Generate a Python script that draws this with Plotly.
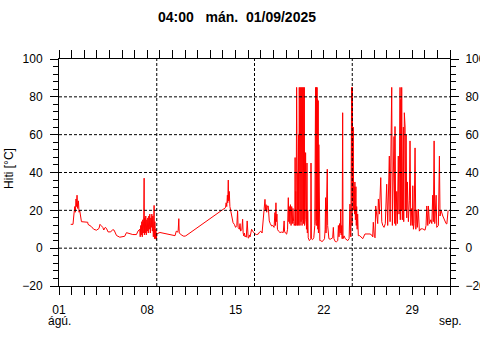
import pandas as pd
import plotly.graph_objects as go

START = pd.Timestamp("2025-08-01 00:00")
END = pd.Timestamp("2025-09-01 00:00")

# (days since 01 Aug, temperature °C)
seg_aug01_08 = [
    (0.93, 12.6), (1.11, 12.6), (1.17, 17), (1.25, 22), (1.30, 19), (1.35, 26), (1.38, 22),
    (1.43, 28), (1.48, 21), (1.54, 25), (1.59, 19), (1.64, 20), (1.78, 14), (1.96, 14),
    (2.28, 13.7), (2.30, 12.6), (2.44, 12), (2.57, 11.4), (2.75, 10), (2.97, 9.5), (3.17, 10.4),
    (3.25, 12.6), (3.33, 12), (3.47, 11), (3.55, 9.6), (3.67, 11), (3.76, 10.5), (3.89, 8.6),
    (4.10, 8.6), (4.26, 9.8), (4.37, 9.5), (4.56, 6.7), (4.82, 5.8), (5.06, 6.0), (5.21, 6.3),
    (5.35, 8.2), (5.61, 7.6), (5.85, 7.2), (6.14, 7.2), (6.27, 9.1),
    (6.40, 10), (6.44, 6), (6.48, 12), (6.52, 7), (6.56, 14), (6.60, 6), (6.64, 15), (6.68, 8),
    (6.72, 17), (6.75, 37), (6.77, 7), (6.80, 16), (6.84, 8), (6.88, 17), (6.92, 7), (6.96, 15),
    (7.00, 9), (7.04, 16), (7.08, 8), (7.12, 17), (7.16, 10), (7.20, 18), (7.24, 8), (7.28, 16),
    (7.32, 11), (7.36, 18), (7.40, 9), (7.44, 17), (7.48, 6), (7.52, 15), (7.54, 22.6), (7.57, 5),
    (7.60, 14), (7.64, 5), (7.68, 10), (7.72, 4.5), (7.76, 8),
]
seg_aug08_15 = [
    (7.80, 7.7), (8.0, 8.3), (8.3, 7.8), (8.7, 7.2), (9.0, 6.8), (9.2, 6.6), (9.3, 9), (9.4, 8.5),
    (9.45, 9.5), (9.5, 15.6), (9.53, 8), (9.6, 7.5), (9.75, 6.8), (9.9, 6.3), (10.05, 6.5),
    (13.2, 21.4), (13.25, 24), (13.3, 22), (13.35, 28), (13.38, 24), (13.42, 36), (13.45, 25),
    (13.5, 30), (13.55, 22), (13.6, 20), (13.7, 16), (13.8, 13.5), (13.9, 12.6), (14.0, 11),
    (14.1, 12), (14.16, 19.8), (14.2, 11), (14.3, 10), (14.35, 13), (14.4, 9), (14.5, 10),
    (14.56, 15.3), (14.6, 8), (14.65, 6.5), (14.7, 8), (14.75, 6), (14.8, 6.5), (14.85, 5.8),
    (14.92, 14.4), (14.96, 6),
]
seg_aug15_19 = [
    (15.0, 5.3), (15.05, 5.5), (15.1, 7), (15.15, 6), (15.2, 8), (15.27, 10), (15.35, 9),
    (15.45, 8), (15.55, 7.5), (15.65, 7.2), (15.79, 7.4), (15.9, 8.5), (16.0, 9), (16.1, 8),
    (16.19, 14.4), (16.25, 18), (16.33, 25.8), (16.38, 20), (16.42, 23), (16.47, 19), (16.52, 22.3),
    (16.59, 22.3), (16.67, 14.4), (16.75, 13), (16.86, 11.7), (16.95, 12), (17.05, 11),
    (17.12, 18.8), (17.16, 12), (17.2, 24), (17.23, 14), (17.28, 18), (17.32, 10), (17.4, 9),
    (17.52, 8.3), (17.65, 8.5), (17.78, 8.3), (17.85, 14.4), (17.88, 9), (17.95, 8), (18.05, 7.4),
    (18.12, 10), (18.18, 26.7), (18.22, 14), (18.26, 22), (18.3, 13), (18.35, 23), (18.4, 12),
    (18.45, 22), (18.5, 13), (18.55, 21), (18.6, 14), (18.65, 12),
]
seg_aug19_22 = [
    (18.70, 13), (18.72, 47.9), (18.74, 12), (18.77, 30), (18.80, 12), (18.84, 85), (18.86, 14),
    (18.89, 54.7), (18.91, 12), (18.94, 40), (18.96, 13), (18.99, 60), (19.01, 12), (19.05, 85),
    (19.07, 15), (19.09, 85), (19.11, 12), (19.13, 85), (19.15, 20), (19.17, 85), (19.19, 14),
    (19.21, 85), (19.23, 30), (19.25, 85), (19.27, 12), (19.29, 85), (19.31, 25), (19.33, 85),
    (19.35, 15), (19.37, 85), (19.39, 13), (19.41, 85), (19.43, 20), (19.45, 85), (19.47, 12),
    (19.50, 85), (19.52, 15), (19.55, 50.5), (19.57, 12), (19.60, 45), (19.62, 10), (19.66, 45),
    (19.69, 8), (19.72, 20), (19.76, 5.5), (19.85, 4), (19.92, 4.5), (19.96, 5), (19.98, 45),
    (20.01, 5), (20.1, 4.5), (20.2, 5.5),
    (20.28, 12), (20.30, 85), (20.32, 12), (20.34, 85), (20.36, 14), (20.38, 85), (20.40, 12),
    (20.42, 85), (20.44, 15), (20.46, 85), (20.48, 12), (20.50, 78.6), (20.52, 10), (20.55, 78),
    (20.57, 8), (20.60, 54.7), (20.62, 6), (20.66, 30), (20.68, 4), (20.75, 4), (20.85, 3.5),
    (20.95, 4), (21.05, 5), (21.1, 10), (21.14, 26.7), (21.17, 8), (21.2, 20), (21.23, 9),
    (21.27, 41.7), (21.30, 12), (21.35, 8), (21.4, 5), (21.5, 4.7), (21.6, 5), (21.7, 5.5),
    (21.75, 11), (21.8, 5), (21.9, 3.5),
]
seg_aug22_26 = [
    (22.0, 3.4), (22.1, 4), (22.15, 12), (22.2, 6), (22.25, 13), (22.3, 8), (22.33, 20.7),
    (22.37, 7), (22.42, 12), (22.45, 5), (22.49, 71.6), (22.52, 5), (22.6, 6.5), (22.7, 5),
    (22.8, 4.5), (22.9, 4), (23.0, 5), (23.07, 23.3), (23.1, 8), (23.14, 6), (23.2, 85),
    (23.23, 12), (23.26, 85), (23.29, 25), (23.33, 64), (23.36, 20), (23.40, 32.5), (23.43, 18),
    (23.46, 35), (23.5, 15), (23.54, 32.5), (23.57, 12), (23.6, 22), (23.64, 10), (23.68, 18),
    (23.73, 6.6), (23.85, 6.6), (24.08, 5), (24.26, 7.5), (24.66, 7.5), (24.79, 7), (24.87, 6),
    (24.92, 13.7), (25.0, 6), (25.06, 5.5), (25.11, 22.3), (25.19, 17), (25.27, 13), (25.32, 26),
    (25.4, 18), (25.51, 37.3), (25.59, 14), (25.67, 12), (25.77, 11), (25.87, 13), (25.98, 33.8),
]
seg_aug26_31 = [
    (26.06, 12), (26.14, 28), (26.19, 48.7), (26.25, 14), (26.30, 35), (26.38, 85), (26.43, 12),
    (26.51, 40), (26.56, 59), (26.62, 13), (26.64, 64.3), (26.70, 12), (26.78, 30), (26.83, 13),
    (26.9, 48.7), (26.96, 18), (26.98, 57), (27.04, 85), (27.06, 15), (27.10, 78.6), (27.14, 20),
    (27.17, 85), (27.22, 15), (27.25, 64), (27.30, 64), (27.33, 14), (27.38, 71.6), (27.44, 64),
    (27.46, 20), (27.52, 60), (27.57, 16), (27.62, 35), (27.70, 14), (27.78, 25), (27.83, 56.7),
    (27.89, 12), (27.97, 21), (28.02, 12), (28.05, 33), (28.1, 10), (28.15, 13), (28.23, 53),
    (28.29, 10), (28.37, 20), (28.41, 11), (28.49, 20.7), (28.57, 9), (28.68, 10.2), (28.84, 10.2),
    (29.02, 9.5), (29.10, 12), (29.16, 22.3), (29.24, 12), (29.29, 22.3), (29.37, 13), (29.48, 15),
    (29.56, 13), (29.63, 28), (29.68, 14), (29.74, 56.7), (29.79, 13), (29.90, 28), (29.95, 11),
    (30.08, 12), (30.13, 30), (30.16, 48.7), (30.21, 17), (30.29, 20), (30.43, 17), (30.61, 14),
    (30.69, 13), (30.75, 12.8), (30.79, 19.8), (30.85, 20),
]

segments = [seg_aug01_08, seg_aug08_15, seg_aug15_19, seg_aug19_22, seg_aug22_26, seg_aug26_31]
day_offsets = [d for seg in segments for d, _ in seg]
temps = [v for seg in segments for _, v in seg]
times = START + pd.to_timedelta(day_offsets, unit="D")

y_ticks = [-20, 0, 20, 40, 60, 80, 100]
y_grid = [0, 20, 40, 60, 80]
x_tick_dates = ["2025-08-01", "2025-08-08", "2025-08-15", "2025-08-22", "2025-08-29", "2025-09-01"]
x_tick_text = ["01", "08", "15", "22", "29", ""]
x_grid_fracs = [0.25, 0.5, 0.75]
title_text = "04:00\u00a0\u00a0\u00a0mán.\u00a0\u00a001/09/2025"
month_labels = [("2025-08-01", "ágú."), ("2025-09-01", "sep.")]

FONT = "Liberation Sans, Arial, sans-serif"

fig = go.Figure()
fig.add_trace(go.Scatter(x=times, y=temps, mode="lines",
                         line=dict(color="#ff0000", width=1), showlegend=False))
fig.add_trace(go.Scatter(x=[times[0]], y=[None], yaxis="y2", mode="lines",
                         showlegend=False, hoverinfo="skip"))

span = END - START
shapes = []
for f in x_grid_fracs:
    xv = START + span * f
    shapes.append(dict(type="line", xref="x", yref="paper", x0=xv, x1=xv, y0=0, y1=1,
                       line=dict(color="black", width=1, dash="3px,2px")))
for g in y_grid:
    shapes.append(dict(type="line", xref="paper", yref="y", x0=0, x1=1, y0=g, y1=g,
                       line=dict(color="black", width=1, dash="3px,2px")))

annotations = [
    dict(text=title_text, x=0.4565, y=1.185, xref="paper", yref="paper", showarrow=False,
         font=dict(family=FONT, size=14, color="black", weight="bold"),
         xanchor="center", yanchor="middle"),
    dict(text="Hiti [°C]", x=-0.128, y=0.52, xref="paper", yref="paper", showarrow=False,
         textangle=-90, font=dict(family=FONT, size=12, color="black"),
         xanchor="center", yanchor="middle"),
]
for d, t in month_labels:
    annotations.append(dict(text=t, x=d, y=-0.152, xref="x", yref="paper", showarrow=False,
                            font=dict(family=FONT, size=12, color="black"),
                            xanchor="center", yanchor="middle"))

axis_common = dict(showline=True, linecolor="black", linewidth=1, ticks="outside",
                   tickcolor="black", tickwidth=1, ticklen=8, showgrid=False, zeroline=False,
                   automargin=False,
                   tickfont=dict(family=FONT, size=12, color="black"))

fig.update_layout(
    width=480, height=360,
    margin=dict(l=59, r=30, t=59, b=74),
    paper_bgcolor="white", plot_bgcolor="white",
    showlegend=False,
    shapes=shapes,
    annotations=annotations,
    xaxis=dict(type="date", range=[START, END], tickvals=x_tick_dates, ticktext=x_tick_text,
               mirror="allticks", ticklabelstandoff=5,
               minor=dict(dtick=86400000, ticklen=5, ticks="outside", tickcolor="black", showgrid=False),
               **axis_common),
    yaxis=dict(range=[-20, 100], tickvals=y_ticks, ticklabelstandoff=5,
               minor=dict(dtick=4, ticklen=5, ticks="outside", tickcolor="black", showgrid=False),
               **axis_common),
    yaxis2=dict(range=[-20, 100], tickvals=y_ticks, overlaying="y", side="right",
                ticklabelstandoff=4,
                minor=dict(dtick=4, ticklen=5, ticks="outside", tickcolor="black", showgrid=False),
                **axis_common),
)

fig.write_html("out.html")
